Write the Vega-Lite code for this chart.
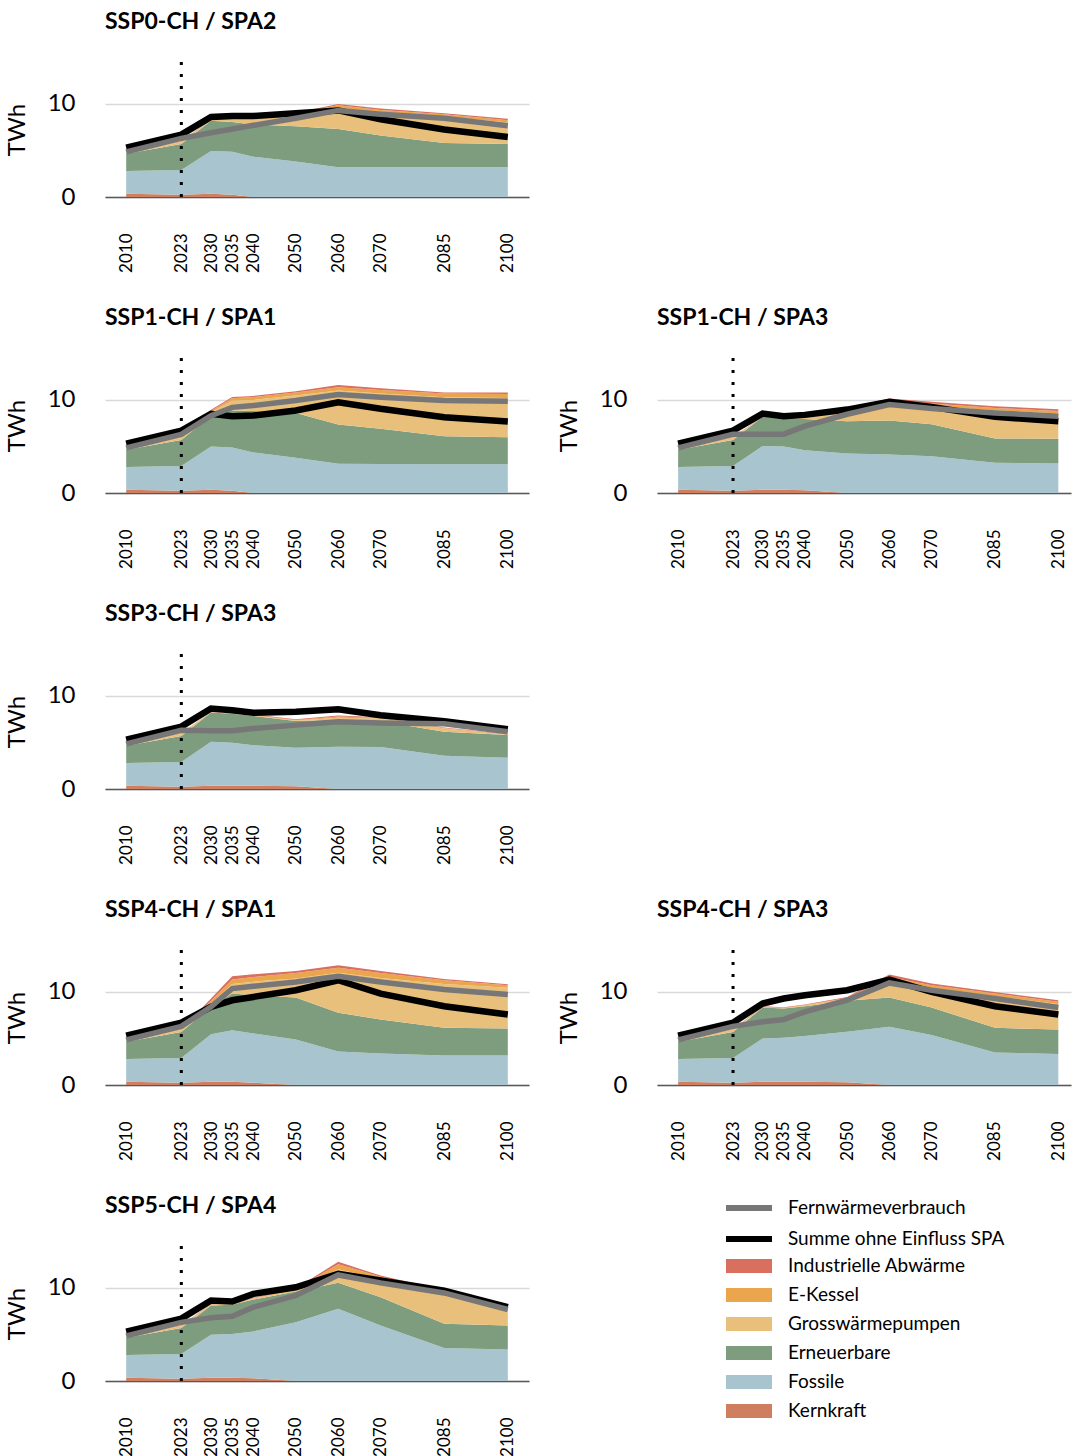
{
"$schema": "https://vega.github.io/schema/vega-lite/v6.json",
"padding": {"left": 5, "top": 10, "right": 0, "bottom": 0},
"config": {
  "font": "Lato",
  "view": {"stroke": null},
  "title": {"font": "Lato", "fontSize": 23, "fontWeight": "bold", "anchor": "start", "frame": "group", "color": "#000000", "offset": 27},
  "axis": {"labelFont": "Lato", "titleFont": "Lato", "labelColor": "#000000", "titleColor": "#000000"},
  "axisX": {"labelAngle": -90, "labelFontSize": 17, "labelPadding": 36, "ticks": false, "grid": false, "domainColor": "#595959", "domainWidth": 1.5, "labelFlush": false, "labelOverlap": false},
  "axisY": {"grid": true, "gridColor": "#d9d9d9", "gridWidth": 1.3, "ticks": false, "domain": false, "labelFontSize": 24, "labelPadding": 30, "titleFontSize": 24, "titleFontWeight": "normal", "titlePadding": 18, "labelFlush": false},
  "legend": {"orient": "none", "title": null, "labelFont": "Lato", "labelFontSize": 19, "labelColor": "#000000", "labelLimit": 400, "direction": "vertical"}
},
"datasets": {
"p1": [
{"year":2010,"series":"Kernkraft","twh":0.35},{"year":2010,"series":"Fossile","twh":2.45},{"year":2010,"series":"Erneuerbare","twh":1.85},{"year":2010,"series":"Grosswärmepumpen","twh":0},{"year":2010,"series":"E-Kessel","twh":0},{"year":2010,"series":"Industrielle Abwärme","twh":0},{"year":2010,"series":"Fernwärmeverbrauch","twh":4.85},{"year":2010,"series":"Summe ohne Einfluss SPA","twh":5.3},
{"year":2023,"series":"Kernkraft","twh":0.25},{"year":2023,"series":"Fossile","twh":2.65},{"year":2023,"series":"Erneuerbare","twh":2.8},{"year":2023,"series":"Grosswärmepumpen","twh":0.2},{"year":2023,"series":"E-Kessel","twh":0.05},{"year":2023,"series":"Industrielle Abwärme","twh":0.05},{"year":2023,"series":"Fernwärmeverbrauch","twh":6.3},{"year":2023,"series":"Summe ohne Einfluss SPA","twh":6.7},
{"year":2030,"series":"Kernkraft","twh":0.35},{"year":2030,"series":"Fossile","twh":4.6},{"year":2030,"series":"Erneuerbare","twh":3.24},{"year":2030,"series":"Grosswärmepumpen","twh":0.05},{"year":2030,"series":"E-Kessel","twh":0.05},{"year":2030,"series":"Industrielle Abwärme","twh":0.05},{"year":2030,"series":"Fernwärmeverbrauch","twh":6.9},{"year":2030,"series":"Summe ohne Einfluss SPA","twh":8.6},
{"year":2035,"series":"Kernkraft","twh":0.25},{"year":2035,"series":"Fossile","twh":4.61},{"year":2035,"series":"Erneuerbare","twh":3.19},{"year":2035,"series":"Grosswärmepumpen","twh":0.25},{"year":2035,"series":"E-Kessel","twh":0.1},{"year":2035,"series":"Industrielle Abwärme","twh":0.05},{"year":2035,"series":"Fernwärmeverbrauch","twh":7.3},{"year":2035,"series":"Summe ohne Einfluss SPA","twh":8.7},
{"year":2040,"series":"Kernkraft","twh":0},{"year":2040,"series":"Fossile","twh":4.32},{"year":2040,"series":"Erneuerbare","twh":3.48},{"year":2040,"series":"Grosswärmepumpen","twh":0.7},{"year":2040,"series":"E-Kessel","twh":0.05},{"year":2040,"series":"Industrielle Abwärme","twh":0.05},{"year":2040,"series":"Fernwärmeverbrauch","twh":7.7},{"year":2040,"series":"Summe ohne Einfluss SPA","twh":8.7},
{"year":2050,"series":"Kernkraft","twh":0},{"year":2050,"series":"Fossile","twh":3.82},{"year":2050,"series":"Erneuerbare","twh":3.78},{"year":2050,"series":"Grosswärmepumpen","twh":1.2},{"year":2050,"series":"E-Kessel","twh":0.15},{"year":2050,"series":"Industrielle Abwärme","twh":0.1},{"year":2050,"series":"Fernwärmeverbrauch","twh":8.45},{"year":2050,"series":"Summe ohne Einfluss SPA","twh":9.0},
{"year":2060,"series":"Kernkraft","twh":0},{"year":2060,"series":"Fossile","twh":3.2},{"year":2060,"series":"Erneuerbare","twh":4.1},{"year":2060,"series":"Grosswärmepumpen","twh":2.2},{"year":2060,"series":"E-Kessel","twh":0.35},{"year":2060,"series":"Industrielle Abwärme","twh":0.15},{"year":2060,"series":"Fernwärmeverbrauch","twh":9.3},{"year":2060,"series":"Summe ohne Einfluss SPA","twh":9.3},
{"year":2070,"series":"Kernkraft","twh":0},{"year":2070,"series":"Fossile","twh":3.2},{"year":2070,"series":"Erneuerbare","twh":3.4},{"year":2070,"series":"Grosswärmepumpen","twh":2.5},{"year":2070,"series":"E-Kessel","twh":0.25},{"year":2070,"series":"Industrielle Abwärme","twh":0.15},{"year":2070,"series":"Fernwärmeverbrauch","twh":8.9},{"year":2070,"series":"Summe ohne Einfluss SPA","twh":8.35},
{"year":2085,"series":"Kernkraft","twh":0},{"year":2085,"series":"Fossile","twh":3.2},{"year":2085,"series":"Erneuerbare","twh":2.6},{"year":2085,"series":"Grosswärmepumpen","twh":2.85},{"year":2085,"series":"E-Kessel","twh":0.25},{"year":2085,"series":"Industrielle Abwärme","twh":0.1},{"year":2085,"series":"Fernwärmeverbrauch","twh":8.45},{"year":2085,"series":"Summe ohne Einfluss SPA","twh":7.25},
{"year":2100,"series":"Kernkraft","twh":0},{"year":2100,"series":"Fossile","twh":3.2},{"year":2100,"series":"Erneuerbare","twh":2.5},{"year":2100,"series":"Grosswärmepumpen","twh":2.3},{"year":2100,"series":"E-Kessel","twh":0.25},{"year":2100,"series":"Industrielle Abwärme","twh":0.15},{"year":2100,"series":"Fernwärmeverbrauch","twh":7.65},{"year":2100,"series":"Summe ohne Einfluss SPA","twh":6.45}
],
"p2": [
{"year":2010,"series":"Kernkraft","twh":0.35},{"year":2010,"series":"Fossile","twh":2.45},{"year":2010,"series":"Erneuerbare","twh":1.85},{"year":2010,"series":"Grosswärmepumpen","twh":0},{"year":2010,"series":"E-Kessel","twh":0},{"year":2010,"series":"Industrielle Abwärme","twh":0},{"year":2010,"series":"Fernwärmeverbrauch","twh":4.85},{"year":2010,"series":"Summe ohne Einfluss SPA","twh":5.3},
{"year":2023,"series":"Kernkraft","twh":0.25},{"year":2023,"series":"Fossile","twh":2.65},{"year":2023,"series":"Erneuerbare","twh":2.8},{"year":2023,"series":"Grosswärmepumpen","twh":0.2},{"year":2023,"series":"E-Kessel","twh":0.05},{"year":2023,"series":"Industrielle Abwärme","twh":0.05},{"year":2023,"series":"Fernwärmeverbrauch","twh":6.3},{"year":2023,"series":"Summe ohne Einfluss SPA","twh":6.7},
{"year":2030,"series":"Kernkraft","twh":0.35},{"year":2030,"series":"Fossile","twh":4.65},{"year":2030,"series":"Erneuerbare","twh":3.3},{"year":2030,"series":"Grosswärmepumpen","twh":0.38},{"year":2030,"series":"E-Kessel","twh":0.12},{"year":2030,"series":"Industrielle Abwärme","twh":0.13},{"year":2030,"series":"Fernwärmeverbrauch","twh":8.3},{"year":2030,"series":"Summe ohne Einfluss SPA","twh":8.5},
{"year":2035,"series":"Kernkraft","twh":0.25},{"year":2035,"series":"Fossile","twh":4.64},{"year":2035,"series":"Erneuerbare","twh":3.97},{"year":2035,"series":"Grosswärmepumpen","twh":1.04},{"year":2035,"series":"E-Kessel","twh":0.28},{"year":2035,"series":"Industrielle Abwärme","twh":0.12},{"year":2035,"series":"Fernwärmeverbrauch","twh":9.2},{"year":2035,"series":"Summe ohne Einfluss SPA","twh":8.25},
{"year":2040,"series":"Kernkraft","twh":0},{"year":2040,"series":"Fossile","twh":4.36},{"year":2040,"series":"Erneuerbare","twh":4.44},{"year":2040,"series":"Grosswärmepumpen","twh":1.2},{"year":2040,"series":"E-Kessel","twh":0.3},{"year":2040,"series":"Industrielle Abwärme","twh":0.13},{"year":2040,"series":"Fernwärmeverbrauch","twh":9.4},{"year":2040,"series":"Summe ohne Einfluss SPA","twh":8.32},
{"year":2050,"series":"Kernkraft","twh":0},{"year":2050,"series":"Fossile","twh":3.79},{"year":2050,"series":"Erneuerbare","twh":4.81},{"year":2050,"series":"Grosswärmepumpen","twh":1.86},{"year":2050,"series":"E-Kessel","twh":0.34},{"year":2050,"series":"Industrielle Abwärme","twh":0.13},{"year":2050,"series":"Fernwärmeverbrauch","twh":9.93},{"year":2050,"series":"Summe ohne Einfluss SPA","twh":8.86},
{"year":2060,"series":"Kernkraft","twh":0},{"year":2060,"series":"Fossile","twh":3.14},{"year":2060,"series":"Erneuerbare","twh":4.22},{"year":2060,"series":"Grosswärmepumpen","twh":3.64},{"year":2060,"series":"E-Kessel","twh":0.36},{"year":2060,"series":"Industrielle Abwärme","twh":0.24},{"year":2060,"series":"Fernwärmeverbrauch","twh":10.57},{"year":2060,"series":"Summe ohne Einfluss SPA","twh":9.75},
{"year":2070,"series":"Kernkraft","twh":0},{"year":2070,"series":"Fossile","twh":3.12},{"year":2070,"series":"Erneuerbare","twh":3.78},{"year":2070,"series":"Grosswärmepumpen","twh":3.8},{"year":2070,"series":"E-Kessel","twh":0.37},{"year":2070,"series":"Industrielle Abwärme","twh":0.18},{"year":2070,"series":"Fernwärmeverbrauch","twh":10.29},{"year":2070,"series":"Summe ohne Einfluss SPA","twh":9.04},
{"year":2085,"series":"Kernkraft","twh":0},{"year":2085,"series":"Fossile","twh":3.1},{"year":2085,"series":"Erneuerbare","twh":3.0},{"year":2085,"series":"Grosswärmepumpen","twh":4.19},{"year":2085,"series":"E-Kessel","twh":0.39},{"year":2085,"series":"Industrielle Abwärme","twh":0.12},{"year":2085,"series":"Fernwärmeverbrauch","twh":9.93},{"year":2085,"series":"Summe ohne Einfluss SPA","twh":8.14},
{"year":2100,"series":"Kernkraft","twh":0},{"year":2100,"series":"Fossile","twh":3.1},{"year":2100,"series":"Erneuerbare","twh":2.9},{"year":2100,"series":"Grosswärmepumpen","twh":4.2},{"year":2100,"series":"E-Kessel","twh":0.44},{"year":2100,"series":"Industrielle Abwärme","twh":0.16},{"year":2100,"series":"Fernwärmeverbrauch","twh":9.86},{"year":2100,"series":"Summe ohne Einfluss SPA","twh":7.68}
],
"p3": [
{"year":2010,"series":"Kernkraft","twh":0.35},{"year":2010,"series":"Fossile","twh":2.45},{"year":2010,"series":"Erneuerbare","twh":1.85},{"year":2010,"series":"Grosswärmepumpen","twh":0},{"year":2010,"series":"E-Kessel","twh":0},{"year":2010,"series":"Industrielle Abwärme","twh":0},{"year":2010,"series":"Fernwärmeverbrauch","twh":4.85},{"year":2010,"series":"Summe ohne Einfluss SPA","twh":5.3},
{"year":2023,"series":"Kernkraft","twh":0.25},{"year":2023,"series":"Fossile","twh":2.65},{"year":2023,"series":"Erneuerbare","twh":2.8},{"year":2023,"series":"Grosswärmepumpen","twh":0.2},{"year":2023,"series":"E-Kessel","twh":0.05},{"year":2023,"series":"Industrielle Abwärme","twh":0.05},{"year":2023,"series":"Fernwärmeverbrauch","twh":6.3},{"year":2023,"series":"Summe ohne Einfluss SPA","twh":6.7},
{"year":2030,"series":"Kernkraft","twh":0.35},{"year":2030,"series":"Fossile","twh":4.69},{"year":2030,"series":"Erneuerbare","twh":3.14},{"year":2030,"series":"Grosswärmepumpen","twh":0.02},{"year":2030,"series":"E-Kessel","twh":0},{"year":2030,"series":"Industrielle Abwärme","twh":0.05},{"year":2030,"series":"Fernwärmeverbrauch","twh":6.32},{"year":2030,"series":"Summe ohne Einfluss SPA","twh":8.54},
{"year":2035,"series":"Kernkraft","twh":0.35},{"year":2035,"series":"Fossile","twh":4.65},{"year":2035,"series":"Erneuerbare","twh":3.1},{"year":2035,"series":"Grosswärmepumpen","twh":0},{"year":2035,"series":"E-Kessel","twh":0},{"year":2035,"series":"Industrielle Abwärme","twh":0.05},{"year":2035,"series":"Fernwärmeverbrauch","twh":6.32},{"year":2035,"series":"Summe ohne Einfluss SPA","twh":8.25},
{"year":2040,"series":"Kernkraft","twh":0.3},{"year":2040,"series":"Fossile","twh":4.3},{"year":2040,"series":"Erneuerbare","twh":3.36},{"year":2040,"series":"Grosswärmepumpen","twh":0.04},{"year":2040,"series":"E-Kessel","twh":0.05},{"year":2040,"series":"Industrielle Abwärme","twh":0.05},{"year":2040,"series":"Fernwärmeverbrauch","twh":7.18},{"year":2040,"series":"Summe ohne Einfluss SPA","twh":8.39},
{"year":2050,"series":"Kernkraft","twh":0},{"year":2050,"series":"Fossile","twh":4.25},{"year":2050,"series":"Erneuerbare","twh":3.46},{"year":2050,"series":"Grosswärmepumpen","twh":1.19},{"year":2050,"series":"E-Kessel","twh":0.1},{"year":2050,"series":"Industrielle Abwärme","twh":0.1},{"year":2050,"series":"Fernwärmeverbrauch","twh":8.46},{"year":2050,"series":"Summe ohne Einfluss SPA","twh":8.96},
{"year":2060,"series":"Kernkraft","twh":0},{"year":2060,"series":"Fossile","twh":4.14},{"year":2060,"series":"Erneuerbare","twh":3.65},{"year":2060,"series":"Grosswärmepumpen","twh":1.81},{"year":2060,"series":"E-Kessel","twh":0.36},{"year":2060,"series":"Industrielle Abwärme","twh":0.18},{"year":2060,"series":"Fernwärmeverbrauch","twh":9.5},{"year":2060,"series":"Summe ohne Einfluss SPA","twh":9.79},
{"year":2070,"series":"Kernkraft","twh":0},{"year":2070,"series":"Fossile","twh":3.96},{"year":2070,"series":"Erneuerbare","twh":3.43},{"year":2070,"series":"Grosswärmepumpen","twh":1.93},{"year":2070,"series":"E-Kessel","twh":0.28},{"year":2070,"series":"Industrielle Abwärme","twh":0.19},{"year":2070,"series":"Fernwärmeverbrauch","twh":9.07},{"year":2070,"series":"Summe ohne Einfluss SPA","twh":9.25},
{"year":2085,"series":"Kernkraft","twh":0},{"year":2085,"series":"Fossile","twh":3.25},{"year":2085,"series":"Erneuerbare","twh":2.61},{"year":2085,"series":"Grosswärmepumpen","twh":3.04},{"year":2085,"series":"E-Kessel","twh":0.24},{"year":2085,"series":"Industrielle Abwärme","twh":0.18},{"year":2085,"series":"Fernwärmeverbrauch","twh":8.6},{"year":2085,"series":"Summe ohne Einfluss SPA","twh":8.18},
{"year":2100,"series":"Kernkraft","twh":0},{"year":2100,"series":"Fossile","twh":3.18},{"year":2100,"series":"Erneuerbare","twh":2.64},{"year":2100,"series":"Grosswärmepumpen","twh":2.72},{"year":2100,"series":"E-Kessel","twh":0.28},{"year":2100,"series":"Industrielle Abwärme","twh":0.18},{"year":2100,"series":"Fernwärmeverbrauch","twh":8.25},{"year":2100,"series":"Summe ohne Einfluss SPA","twh":7.71}
],
"p4": [
{"year":2010,"series":"Kernkraft","twh":0.35},{"year":2010,"series":"Fossile","twh":2.45},{"year":2010,"series":"Erneuerbare","twh":1.85},{"year":2010,"series":"Grosswärmepumpen","twh":0},{"year":2010,"series":"E-Kessel","twh":0},{"year":2010,"series":"Industrielle Abwärme","twh":0},{"year":2010,"series":"Fernwärmeverbrauch","twh":4.85},{"year":2010,"series":"Summe ohne Einfluss SPA","twh":5.3},
{"year":2023,"series":"Kernkraft","twh":0.25},{"year":2023,"series":"Fossile","twh":2.65},{"year":2023,"series":"Erneuerbare","twh":2.8},{"year":2023,"series":"Grosswärmepumpen","twh":0.2},{"year":2023,"series":"E-Kessel","twh":0.05},{"year":2023,"series":"Industrielle Abwärme","twh":0.05},{"year":2023,"series":"Fernwärmeverbrauch","twh":6.3},{"year":2023,"series":"Summe ohne Einfluss SPA","twh":6.7},
{"year":2030,"series":"Kernkraft","twh":0.35},{"year":2030,"series":"Fossile","twh":4.72},{"year":2030,"series":"Erneuerbare","twh":3.14},{"year":2030,"series":"Grosswärmepumpen","twh":0.04},{"year":2030,"series":"E-Kessel","twh":0.03},{"year":2030,"series":"Industrielle Abwärme","twh":0.02},{"year":2030,"series":"Fernwärmeverbrauch","twh":6.25},{"year":2030,"series":"Summe ohne Einfluss SPA","twh":8.64},
{"year":2035,"series":"Kernkraft","twh":0.35},{"year":2035,"series":"Fossile","twh":4.61},{"year":2035,"series":"Erneuerbare","twh":3.11},{"year":2035,"series":"Grosswärmepumpen","twh":0.03},{"year":2035,"series":"E-Kessel","twh":0.02},{"year":2035,"series":"Industrielle Abwärme","twh":0.03},{"year":2035,"series":"Fernwärmeverbrauch","twh":6.25},{"year":2035,"series":"Summe ohne Einfluss SPA","twh":8.46},
{"year":2040,"series":"Kernkraft","twh":0.35},{"year":2040,"series":"Fossile","twh":4.36},{"year":2040,"series":"Erneuerbare","twh":3.15},{"year":2040,"series":"Grosswärmepumpen","twh":0.04},{"year":2040,"series":"E-Kessel","twh":0.05},{"year":2040,"series":"Industrielle Abwärme","twh":0.05},{"year":2040,"series":"Fernwärmeverbrauch","twh":6.5},{"year":2040,"series":"Summe ohne Einfluss SPA","twh":8.18},
{"year":2050,"series":"Kernkraft","twh":0.3},{"year":2050,"series":"Fossile","twh":4.13},{"year":2050,"series":"Erneuerbare","twh":2.87},{"year":2050,"series":"Grosswärmepumpen","twh":0.05},{"year":2050,"series":"E-Kessel","twh":0.05},{"year":2050,"series":"Industrielle Abwärme","twh":0.1},{"year":2050,"series":"Fernwärmeverbrauch","twh":6.86},{"year":2050,"series":"Summe ohne Einfluss SPA","twh":8.29},
{"year":2060,"series":"Kernkraft","twh":0},{"year":2060,"series":"Fossile","twh":4.54},{"year":2060,"series":"Erneuerbare","twh":2.91},{"year":2060,"series":"Grosswärmepumpen","twh":0.2},{"year":2060,"series":"E-Kessel","twh":0.15},{"year":2060,"series":"Industrielle Abwärme","twh":0.1},{"year":2060,"series":"Fernwärmeverbrauch","twh":7.21},{"year":2060,"series":"Summe ohne Einfluss SPA","twh":8.57},
{"year":2070,"series":"Kernkraft","twh":0},{"year":2070,"series":"Fossile","twh":4.5},{"year":2070,"series":"Erneuerbare","twh":2.79},{"year":2070,"series":"Grosswärmepumpen","twh":0.28},{"year":2070,"series":"E-Kessel","twh":0.08},{"year":2070,"series":"Industrielle Abwärme","twh":0.05},{"year":2070,"series":"Fernwärmeverbrauch","twh":7.1},{"year":2070,"series":"Summe ohne Einfluss SPA","twh":7.93},
{"year":2085,"series":"Kernkraft","twh":0},{"year":2085,"series":"Fossile","twh":3.57},{"year":2085,"series":"Erneuerbare","twh":2.57},{"year":2085,"series":"Grosswärmepumpen","twh":0.36},{"year":2085,"series":"E-Kessel","twh":0.05},{"year":2085,"series":"Industrielle Abwärme","twh":0.05},{"year":2085,"series":"Fernwärmeverbrauch","twh":7.0},{"year":2085,"series":"Summe ohne Einfluss SPA","twh":7.29},
{"year":2100,"series":"Kernkraft","twh":0},{"year":2100,"series":"Fossile","twh":3.36},{"year":2100,"series":"Erneuerbare","twh":2.43},{"year":2100,"series":"Grosswärmepumpen","twh":0.06},{"year":2100,"series":"E-Kessel","twh":0},{"year":2100,"series":"Industrielle Abwärme","twh":0.05},{"year":2100,"series":"Fernwärmeverbrauch","twh":6.14},{"year":2100,"series":"Summe ohne Einfluss SPA","twh":6.43}
],
"p5": [
{"year":2010,"series":"Kernkraft","twh":0.35},{"year":2010,"series":"Fossile","twh":2.45},{"year":2010,"series":"Erneuerbare","twh":1.85},{"year":2010,"series":"Grosswärmepumpen","twh":0},{"year":2010,"series":"E-Kessel","twh":0},{"year":2010,"series":"Industrielle Abwärme","twh":0},{"year":2010,"series":"Fernwärmeverbrauch","twh":4.85},{"year":2010,"series":"Summe ohne Einfluss SPA","twh":5.3},
{"year":2023,"series":"Kernkraft","twh":0.25},{"year":2023,"series":"Fossile","twh":2.65},{"year":2023,"series":"Erneuerbare","twh":2.8},{"year":2023,"series":"Grosswärmepumpen","twh":0.2},{"year":2023,"series":"E-Kessel","twh":0.05},{"year":2023,"series":"Industrielle Abwärme","twh":0.05},{"year":2023,"series":"Fernwärmeverbrauch","twh":6.3},{"year":2023,"series":"Summe ohne Einfluss SPA","twh":6.7},
{"year":2030,"series":"Kernkraft","twh":0.35},{"year":2030,"series":"Fossile","twh":5.11},{"year":2030,"series":"Erneuerbare","twh":2.93},{"year":2030,"series":"Grosswärmepumpen","twh":0.36},{"year":2030,"series":"E-Kessel","twh":0.29},{"year":2030,"series":"Industrielle Abwärme","twh":0.25},{"year":2030,"series":"Fernwärmeverbrauch","twh":8.39},{"year":2030,"series":"Summe ohne Einfluss SPA","twh":8.39},
{"year":2035,"series":"Kernkraft","twh":0.35},{"year":2035,"series":"Fossile","twh":5.54},{"year":2035,"series":"Erneuerbare","twh":3.93},{"year":2035,"series":"Grosswärmepumpen","twh":1.03},{"year":2035,"series":"E-Kessel","twh":0.47},{"year":2035,"series":"Industrielle Abwärme","twh":0.36},{"year":2035,"series":"Fernwärmeverbrauch","twh":10.36},{"year":2035,"series":"Summe ohne Einfluss SPA","twh":9.1},
{"year":2040,"series":"Kernkraft","twh":0.25},{"year":2040,"series":"Fossile","twh":5.29},{"year":2040,"series":"Erneuerbare","twh":4.1},{"year":2040,"series":"Grosswärmepumpen","twh":1.46},{"year":2040,"series":"E-Kessel","twh":0.5},{"year":2040,"series":"Industrielle Abwärme","twh":0.3},{"year":2040,"series":"Fernwärmeverbrauch","twh":10.6},{"year":2040,"series":"Summe ohne Einfluss SPA","twh":9.46},
{"year":2050,"series":"Kernkraft","twh":0},{"year":2050,"series":"Fossile","twh":4.89},{"year":2050,"series":"Erneuerbare","twh":4.5},{"year":2050,"series":"Grosswärmepumpen","twh":2.06},{"year":2050,"series":"E-Kessel","twh":0.59},{"year":2050,"series":"Industrielle Abwärme","twh":0.21},{"year":2050,"series":"Fernwärmeverbrauch","twh":11.07},{"year":2050,"series":"Summe ohne Einfluss SPA","twh":10.18},
{"year":2060,"series":"Kernkraft","twh":0},{"year":2060,"series":"Fossile","twh":3.61},{"year":2060,"series":"Erneuerbare","twh":4.14},{"year":2060,"series":"Grosswärmepumpen","twh":4.3},{"year":2060,"series":"E-Kessel","twh":0.55},{"year":2060,"series":"Industrielle Abwärme","twh":0.26},{"year":2060,"series":"Fernwärmeverbrauch","twh":11.68},{"year":2060,"series":"Summe ohne Einfluss SPA","twh":11.25},
{"year":2070,"series":"Kernkraft","twh":0},{"year":2070,"series":"Fossile","twh":3.39},{"year":2070,"series":"Erneuerbare","twh":3.65},{"year":2070,"series":"Grosswärmepumpen","twh":4.46},{"year":2070,"series":"E-Kessel","twh":0.54},{"year":2070,"series":"Industrielle Abwärme","twh":0.21},{"year":2070,"series":"Fernwärmeverbrauch","twh":11.07},{"year":2070,"series":"Summe ohne Einfluss SPA","twh":9.82},
{"year":2085,"series":"Kernkraft","twh":0},{"year":2085,"series":"Fossile","twh":3.18},{"year":2085,"series":"Erneuerbare","twh":2.96},{"year":2085,"series":"Grosswärmepumpen","twh":4.71},{"year":2085,"series":"E-Kessel","twh":0.4},{"year":2085,"series":"Industrielle Abwärme","twh":0.14},{"year":2085,"series":"Fernwärmeverbrauch","twh":10.25},{"year":2085,"series":"Summe ohne Einfluss SPA","twh":8.46},
{"year":2100,"series":"Kernkraft","twh":0},{"year":2100,"series":"Fossile","twh":3.18},{"year":2100,"series":"Erneuerbare","twh":2.89},{"year":2100,"series":"Grosswärmepumpen","twh":4.38},{"year":2100,"series":"E-Kessel","twh":0.26},{"year":2100,"series":"Industrielle Abwärme","twh":0.11},{"year":2100,"series":"Fernwärmeverbrauch","twh":9.71},{"year":2100,"series":"Summe ohne Einfluss SPA","twh":7.57}
],
"p6": [
{"year":2010,"series":"Kernkraft","twh":0.35},{"year":2010,"series":"Fossile","twh":2.45},{"year":2010,"series":"Erneuerbare","twh":1.85},{"year":2010,"series":"Grosswärmepumpen","twh":0},{"year":2010,"series":"E-Kessel","twh":0},{"year":2010,"series":"Industrielle Abwärme","twh":0},{"year":2010,"series":"Fernwärmeverbrauch","twh":4.85},{"year":2010,"series":"Summe ohne Einfluss SPA","twh":5.3},
{"year":2023,"series":"Kernkraft","twh":0.25},{"year":2023,"series":"Fossile","twh":2.65},{"year":2023,"series":"Erneuerbare","twh":2.8},{"year":2023,"series":"Grosswärmepumpen","twh":0.2},{"year":2023,"series":"E-Kessel","twh":0.05},{"year":2023,"series":"Industrielle Abwärme","twh":0.05},{"year":2023,"series":"Fernwärmeverbrauch","twh":6.3},{"year":2023,"series":"Summe ohne Einfluss SPA","twh":6.7},
{"year":2030,"series":"Kernkraft","twh":0.35},{"year":2030,"series":"Fossile","twh":4.65},{"year":2030,"series":"Erneuerbare","twh":3.32},{"year":2030,"series":"Grosswärmepumpen","twh":0.03},{"year":2030,"series":"E-Kessel","twh":0.05},{"year":2030,"series":"Industrielle Abwärme","twh":0.05},{"year":2030,"series":"Fernwärmeverbrauch","twh":6.79},{"year":2030,"series":"Summe ohne Einfluss SPA","twh":8.75},
{"year":2035,"series":"Kernkraft","twh":0.35},{"year":2035,"series":"Fossile","twh":4.72},{"year":2035,"series":"Erneuerbare","twh":3.14},{"year":2035,"series":"Grosswärmepumpen","twh":0.04},{"year":2035,"series":"E-Kessel","twh":0.05},{"year":2035,"series":"Industrielle Abwärme","twh":0.05},{"year":2035,"series":"Fernwärmeverbrauch","twh":7.04},{"year":2035,"series":"Summe ohne Einfluss SPA","twh":9.29},
{"year":2040,"series":"Kernkraft","twh":0.35},{"year":2040,"series":"Fossile","twh":4.9},{"year":2040,"series":"Erneuerbare","twh":3.21},{"year":2040,"series":"Grosswärmepumpen","twh":0.09},{"year":2040,"series":"E-Kessel","twh":0.05},{"year":2040,"series":"Industrielle Abwärme","twh":0.05},{"year":2040,"series":"Fernwärmeverbrauch","twh":7.86},{"year":2040,"series":"Summe ohne Einfluss SPA","twh":9.64},
{"year":2050,"series":"Kernkraft","twh":0.3},{"year":2050,"series":"Fossile","twh":5.41},{"year":2050,"series":"Erneuerbare","twh":3.33},{"year":2050,"series":"Grosswärmepumpen","twh":0.26},{"year":2050,"series":"E-Kessel","twh":0.05},{"year":2050,"series":"Industrielle Abwärme","twh":0.1},{"year":2050,"series":"Fernwärmeverbrauch","twh":9.11},{"year":2050,"series":"Summe ohne Einfluss SPA","twh":10.18},
{"year":2060,"series":"Kernkraft","twh":0},{"year":2060,"series":"Fossile","twh":6.25},{"year":2060,"series":"Erneuerbare","twh":3.14},{"year":2060,"series":"Grosswärmepumpen","twh":1.51},{"year":2060,"series":"E-Kessel","twh":0.7},{"year":2060,"series":"Industrielle Abwärme","twh":0.26},{"year":2060,"series":"Fernwärmeverbrauch","twh":10.96},{"year":2060,"series":"Summe ohne Einfluss SPA","twh":11.32},
{"year":2070,"series":"Kernkraft","twh":0},{"year":2070,"series":"Fossile","twh":5.36},{"year":2070,"series":"Erneuerbare","twh":2.96},{"year":2070,"series":"Grosswärmepumpen","twh":2.04},{"year":2070,"series":"E-Kessel","twh":0.35},{"year":2070,"series":"Industrielle Abwärme","twh":0.19},{"year":2070,"series":"Fernwärmeverbrauch","twh":10.18},{"year":2070,"series":"Summe ohne Einfluss SPA","twh":10.0},
{"year":2085,"series":"Kernkraft","twh":0},{"year":2085,"series":"Fossile","twh":3.5},{"year":2085,"series":"Erneuerbare","twh":2.64},{"year":2085,"series":"Grosswärmepumpen","twh":3.4},{"year":2085,"series":"E-Kessel","twh":0.28},{"year":2085,"series":"Industrielle Abwärme","twh":0.18},{"year":2085,"series":"Fernwärmeverbrauch","twh":9.29},{"year":2085,"series":"Summe ohne Einfluss SPA","twh":8.46},
{"year":2100,"series":"Kernkraft","twh":0},{"year":2100,"series":"Fossile","twh":3.32},{"year":2100,"series":"Erneuerbare","twh":2.64},{"year":2100,"series":"Grosswärmepumpen","twh":2.72},{"year":2100,"series":"E-Kessel","twh":0.25},{"year":2100,"series":"Industrielle Abwärme","twh":0.18},{"year":2100,"series":"Fernwärmeverbrauch","twh":8.32},{"year":2100,"series":"Summe ohne Einfluss SPA","twh":7.57}
],
"p7": [
{"year":2010,"series":"Kernkraft","twh":0.35},{"year":2010,"series":"Fossile","twh":2.45},{"year":2010,"series":"Erneuerbare","twh":1.85},{"year":2010,"series":"Grosswärmepumpen","twh":0},{"year":2010,"series":"E-Kessel","twh":0},{"year":2010,"series":"Industrielle Abwärme","twh":0},{"year":2010,"series":"Fernwärmeverbrauch","twh":4.85},{"year":2010,"series":"Summe ohne Einfluss SPA","twh":5.3},
{"year":2023,"series":"Kernkraft","twh":0.25},{"year":2023,"series":"Fossile","twh":2.65},{"year":2023,"series":"Erneuerbare","twh":2.8},{"year":2023,"series":"Grosswärmepumpen","twh":0.2},{"year":2023,"series":"E-Kessel","twh":0.05},{"year":2023,"series":"Industrielle Abwärme","twh":0.05},{"year":2023,"series":"Fernwärmeverbrauch","twh":6.3},{"year":2023,"series":"Summe ohne Einfluss SPA","twh":6.7},
{"year":2030,"series":"Kernkraft","twh":0.35},{"year":2030,"series":"Fossile","twh":4.61},{"year":2030,"series":"Erneuerbare","twh":3.14},{"year":2030,"series":"Grosswärmepumpen","twh":0.1},{"year":2030,"series":"E-Kessel","twh":0.05},{"year":2030,"series":"Industrielle Abwärme","twh":0.05},{"year":2030,"series":"Fernwärmeverbrauch","twh":6.79},{"year":2030,"series":"Summe ohne Einfluss SPA","twh":8.64},
{"year":2035,"series":"Kernkraft","twh":0.35},{"year":2035,"series":"Fossile","twh":4.69},{"year":2035,"series":"Erneuerbare","twh":3.14},{"year":2035,"series":"Grosswärmepumpen","twh":0.07},{"year":2035,"series":"E-Kessel","twh":0.05},{"year":2035,"series":"Industrielle Abwärme","twh":0.05},{"year":2035,"series":"Fernwärmeverbrauch","twh":6.96},{"year":2035,"series":"Summe ohne Einfluss SPA","twh":8.54},
{"year":2040,"series":"Kernkraft","twh":0.3},{"year":2040,"series":"Fossile","twh":5.02},{"year":2040,"series":"Erneuerbare","twh":3.43},{"year":2040,"series":"Grosswärmepumpen","twh":0.1},{"year":2040,"series":"E-Kessel","twh":0.05},{"year":2040,"series":"Industrielle Abwärme","twh":0.05},{"year":2040,"series":"Fernwärmeverbrauch","twh":7.93},{"year":2040,"series":"Summe ohne Einfluss SPA","twh":9.36},
{"year":2050,"series":"Kernkraft","twh":0},{"year":2050,"series":"Fossile","twh":6.32},{"year":2050,"series":"Erneuerbare","twh":3.28},{"year":2050,"series":"Grosswärmepumpen","twh":0.15},{"year":2050,"series":"E-Kessel","twh":0.1},{"year":2050,"series":"Industrielle Abwärme","twh":0.1},{"year":2050,"series":"Fernwärmeverbrauch","twh":9.18},{"year":2050,"series":"Summe ohne Einfluss SPA","twh":10.07},
{"year":2060,"series":"Kernkraft","twh":0},{"year":2060,"series":"Fossile","twh":7.75},{"year":2060,"series":"Erneuerbare","twh":2.79},{"year":2060,"series":"Grosswärmepumpen","twh":1.46},{"year":2060,"series":"E-Kessel","twh":0.55},{"year":2060,"series":"Industrielle Abwärme","twh":0.25},{"year":2060,"series":"Fernwärmeverbrauch","twh":11.39},{"year":2060,"series":"Summe ohne Einfluss SPA","twh":11.5},
{"year":2070,"series":"Kernkraft","twh":0},{"year":2070,"series":"Fossile","twh":5.96},{"year":2070,"series":"Erneuerbare","twh":3.04},{"year":2070,"series":"Grosswärmepumpen","twh":1.96},{"year":2070,"series":"E-Kessel","twh":0.24},{"year":2070,"series":"Industrielle Abwärme","twh":0.12},{"year":2070,"series":"Fernwärmeverbrauch","twh":10.54},{"year":2070,"series":"Summe ohne Einfluss SPA","twh":10.79},
{"year":2085,"series":"Kernkraft","twh":0},{"year":2085,"series":"Fossile","twh":3.54},{"year":2085,"series":"Erneuerbare","twh":2.6},{"year":2085,"series":"Grosswärmepumpen","twh":3.22},{"year":2085,"series":"E-Kessel","twh":0.24},{"year":2085,"series":"Industrielle Abwärme","twh":0.15},{"year":2085,"series":"Fernwärmeverbrauch","twh":9.46},{"year":2085,"series":"Summe ohne Einfluss SPA","twh":9.71},
{"year":2100,"series":"Kernkraft","twh":0},{"year":2100,"series":"Fossile","twh":3.39},{"year":2100,"series":"Erneuerbare","twh":2.57},{"year":2100,"series":"Grosswärmepumpen","twh":1.94},{"year":2100,"series":"E-Kessel","twh":0.1},{"year":2100,"series":"Industrielle Abwärme","twh":0.1},{"year":2100,"series":"Fernwärmeverbrauch","twh":7.68},{"year":2100,"series":"Summe ohne Einfluss SPA","twh":7.93}
],
"marker": [{"year": 2023}]
},
"spacing": 33,
"vconcat": [
{"hconcat": [
{"title": "SSP0-CH / SPA2", "width": 424, "height": 135, "data": {"name": "p1"},
 "layer": [
  {"transform": [{"filter": {"field": "series", "oneOf": ["Kernkraft","Fossile","Erneuerbare","Grosswärmepumpen","E-Kessel","Industrielle Abwärme"]}}, {"calculate": "indexof(['Kernkraft','Fossile','Erneuerbare','Grosswärmepumpen','E-Kessel','Industrielle Abwärme'], datum.series)", "as": "rank"}],
   "mark": {"type": "area"},
   "encoding": {
    "x": {"field": "year", "type": "quantitative", "title": null, "scale": {"domain": [2005, 2105], "nice": false, "zero": false}, "axis": {"values": [2010,2023,2030,2035,2040,2050,2060,2070,2085,2100], "format": "d"}},
    "y": {"field": "twh", "type": "quantitative", "stack": "zero", "title": "TWh", "scale": {"domain": [0, 14.5], "nice": false}, "axis": {"values": [0, 10]}},
    "order": {"field": "rank", "type": "quantitative", "sort": "ascending"},
    "fill": {"field": "series", "type": "nominal",
      "scale": {"domain": ["Industrielle Abwärme","E-Kessel","Grosswärmepumpen","Erneuerbare","Fossile","Kernkraft"], "range": ["#D9705F","#EBA54D","#E8C07C","#7E9D7E","#A8C4CF","#CF7F5F"]},
      "legend": {"legendX": 634, "legendY": 1194, "rowPadding": 9, "labelOffset": 29, "symbolType": "M-2.3,-0.7H2.3V0.7H-2.3Z", "symbolSize": 400, "symbolStrokeWidth": 0}}
   }},
  {"data": {"name": "marker"}, "mark": {"type": "rule", "strokeDash": [3, 9], "strokeWidth": 3, "color": "#000000", "strokeCap": "butt"},
   "encoding": {"x": {"field": "year", "type": "quantitative", "title": null}}},
  {"transform": [{"filter": {"field": "series", "equal": "Summe ohne Einfluss SPA"}}],
   "mark": {"type": "line", "strokeWidth": 6.5},
   "encoding": {"x": {"field": "year", "type": "quantitative", "title": null}, "y": {"field": "twh", "type": "quantitative", "title": "TWh"},
    "stroke": {"field": "series", "type": "nominal", "scale": {"domain": ["Fernwärmeverbrauch","Summe ohne Einfluss SPA"], "range": ["#777777","#000000"]},
      "legend": {"legendX": 631, "legendY": 1133, "rowPadding": 6, "labelOffset": 26, "symbolType": "M-2.3,0H2.3", "symbolSize": 400, "symbolStrokeWidth": 6}}}},
  {"transform": [{"filter": {"field": "series", "equal": "Fernwärmeverbrauch"}}],
   "mark": {"type": "line", "strokeWidth": 5.5},
   "encoding": {"x": {"field": "year", "type": "quantitative", "title": null}, "y": {"field": "twh", "type": "quantitative", "title": "TWh"},
    "stroke": {"field": "series", "type": "nominal", "scale": {"domain": ["Fernwärmeverbrauch","Summe ohne Einfluss SPA"], "range": ["#777777","#000000"]}}}}
 ]}
]},
{"spacing": 28, "hconcat": [
{"title": "SSP1-CH / SPA1", "width": 424, "height": 135, "data": {"name": "p2"},
 "layer": [
  {"transform": [{"filter": {"field": "series", "oneOf": ["Kernkraft","Fossile","Erneuerbare","Grosswärmepumpen","E-Kessel","Industrielle Abwärme"]}}, {"calculate": "indexof(['Kernkraft','Fossile','Erneuerbare','Grosswärmepumpen','E-Kessel','Industrielle Abwärme'], datum.series)", "as": "rank"}],
   "mark": {"type": "area"},
   "encoding": {
    "x": {"field": "year", "type": "quantitative", "title": null, "scale": {"domain": [2005, 2105], "nice": false, "zero": false}, "axis": {"values": [2010,2023,2030,2035,2040,2050,2060,2070,2085,2100], "format": "d"}},
    "y": {"field": "twh", "type": "quantitative", "stack": "zero", "title": "TWh", "scale": {"domain": [0, 14.5], "nice": false}, "axis": {"values": [0, 10]}},
    "order": {"field": "rank", "type": "quantitative", "sort": "ascending"},
    "fill": {"field": "series", "type": "nominal",
      "scale": {"domain": ["Industrielle Abwärme","E-Kessel","Grosswärmepumpen","Erneuerbare","Fossile","Kernkraft"], "range": ["#D9705F","#EBA54D","#E8C07C","#7E9D7E","#A8C4CF","#CF7F5F"]}}
   }},
  {"data": {"name": "marker"}, "mark": {"type": "rule", "strokeDash": [3, 9], "strokeWidth": 3, "color": "#000000", "strokeCap": "butt"},
   "encoding": {"x": {"field": "year", "type": "quantitative", "title": null}}},
  {"transform": [{"filter": {"field": "series", "equal": "Summe ohne Einfluss SPA"}}],
   "mark": {"type": "line", "strokeWidth": 6.5},
   "encoding": {"x": {"field": "year", "type": "quantitative", "title": null}, "y": {"field": "twh", "type": "quantitative", "title": "TWh"},
    "stroke": {"field": "series", "type": "nominal", "scale": {"domain": ["Fernwärmeverbrauch","Summe ohne Einfluss SPA"], "range": ["#777777","#000000"]}}}},
  {"transform": [{"filter": {"field": "series", "equal": "Fernwärmeverbrauch"}}],
   "mark": {"type": "line", "strokeWidth": 5.5},
   "encoding": {"x": {"field": "year", "type": "quantitative", "title": null}, "y": {"field": "twh", "type": "quantitative", "title": "TWh"},
    "stroke": {"field": "series", "type": "nominal", "scale": {"domain": ["Fernwärmeverbrauch","Summe ohne Einfluss SPA"], "range": ["#777777","#000000"]}}}}
 ]},
{"title": "SSP1-CH / SPA3", "width": 414, "height": 135, "data": {"name": "p3"},
 "layer": [
  {"transform": [{"filter": {"field": "series", "oneOf": ["Kernkraft","Fossile","Erneuerbare","Grosswärmepumpen","E-Kessel","Industrielle Abwärme"]}}, {"calculate": "indexof(['Kernkraft','Fossile','Erneuerbare','Grosswärmepumpen','E-Kessel','Industrielle Abwärme'], datum.series)", "as": "rank"}],
   "mark": {"type": "area"},
   "encoding": {
    "x": {"field": "year", "type": "quantitative", "title": null, "scale": {"domain": [2005, 2103], "nice": false, "zero": false}, "axis": {"values": [2010,2023,2030,2035,2040,2050,2060,2070,2085,2100], "format": "d"}},
    "y": {"field": "twh", "type": "quantitative", "stack": "zero", "title": "TWh", "scale": {"domain": [0, 14.5], "nice": false}, "axis": {"values": [0, 10]}},
    "order": {"field": "rank", "type": "quantitative", "sort": "ascending"},
    "fill": {"field": "series", "type": "nominal",
      "scale": {"domain": ["Industrielle Abwärme","E-Kessel","Grosswärmepumpen","Erneuerbare","Fossile","Kernkraft"], "range": ["#D9705F","#EBA54D","#E8C07C","#7E9D7E","#A8C4CF","#CF7F5F"]}}
   }},
  {"data": {"name": "marker"}, "mark": {"type": "rule", "strokeDash": [3, 9], "strokeWidth": 3, "color": "#000000", "strokeCap": "butt"},
   "encoding": {"x": {"field": "year", "type": "quantitative", "title": null}}},
  {"transform": [{"filter": {"field": "series", "equal": "Summe ohne Einfluss SPA"}}],
   "mark": {"type": "line", "strokeWidth": 6.5},
   "encoding": {"x": {"field": "year", "type": "quantitative", "title": null}, "y": {"field": "twh", "type": "quantitative", "title": "TWh"},
    "stroke": {"field": "series", "type": "nominal", "scale": {"domain": ["Fernwärmeverbrauch","Summe ohne Einfluss SPA"], "range": ["#777777","#000000"]}}}},
  {"transform": [{"filter": {"field": "series", "equal": "Fernwärmeverbrauch"}}],
   "mark": {"type": "line", "strokeWidth": 5.5},
   "encoding": {"x": {"field": "year", "type": "quantitative", "title": null}, "y": {"field": "twh", "type": "quantitative", "title": "TWh"},
    "stroke": {"field": "series", "type": "nominal", "scale": {"domain": ["Fernwärmeverbrauch","Summe ohne Einfluss SPA"], "range": ["#777777","#000000"]}}}}
 ]}
]},
{"hconcat": [
{"title": "SSP3-CH / SPA3", "width": 424, "height": 135, "data": {"name": "p4"},
 "layer": [
  {"transform": [{"filter": {"field": "series", "oneOf": ["Kernkraft","Fossile","Erneuerbare","Grosswärmepumpen","E-Kessel","Industrielle Abwärme"]}}, {"calculate": "indexof(['Kernkraft','Fossile','Erneuerbare','Grosswärmepumpen','E-Kessel','Industrielle Abwärme'], datum.series)", "as": "rank"}],
   "mark": {"type": "area"},
   "encoding": {
    "x": {"field": "year", "type": "quantitative", "title": null, "scale": {"domain": [2005, 2105], "nice": false, "zero": false}, "axis": {"values": [2010,2023,2030,2035,2040,2050,2060,2070,2085,2100], "format": "d"}},
    "y": {"field": "twh", "type": "quantitative", "stack": "zero", "title": "TWh", "scale": {"domain": [0, 14.5], "nice": false}, "axis": {"values": [0, 10]}},
    "order": {"field": "rank", "type": "quantitative", "sort": "ascending"},
    "fill": {"field": "series", "type": "nominal",
      "scale": {"domain": ["Industrielle Abwärme","E-Kessel","Grosswärmepumpen","Erneuerbare","Fossile","Kernkraft"], "range": ["#D9705F","#EBA54D","#E8C07C","#7E9D7E","#A8C4CF","#CF7F5F"]}}
   }},
  {"data": {"name": "marker"}, "mark": {"type": "rule", "strokeDash": [3, 9], "strokeWidth": 3, "color": "#000000", "strokeCap": "butt"},
   "encoding": {"x": {"field": "year", "type": "quantitative", "title": null}}},
  {"transform": [{"filter": {"field": "series", "equal": "Summe ohne Einfluss SPA"}}],
   "mark": {"type": "line", "strokeWidth": 6.5},
   "encoding": {"x": {"field": "year", "type": "quantitative", "title": null}, "y": {"field": "twh", "type": "quantitative", "title": "TWh"},
    "stroke": {"field": "series", "type": "nominal", "scale": {"domain": ["Fernwärmeverbrauch","Summe ohne Einfluss SPA"], "range": ["#777777","#000000"]}}}},
  {"transform": [{"filter": {"field": "series", "equal": "Fernwärmeverbrauch"}}],
   "mark": {"type": "line", "strokeWidth": 5.5},
   "encoding": {"x": {"field": "year", "type": "quantitative", "title": null}, "y": {"field": "twh", "type": "quantitative", "title": "TWh"},
    "stroke": {"field": "series", "type": "nominal", "scale": {"domain": ["Fernwärmeverbrauch","Summe ohne Einfluss SPA"], "range": ["#777777","#000000"]}}}}
 ]}
]},
{"spacing": 28, "hconcat": [
{"title": "SSP4-CH / SPA1", "width": 424, "height": 135, "data": {"name": "p5"},
 "layer": [
  {"transform": [{"filter": {"field": "series", "oneOf": ["Kernkraft","Fossile","Erneuerbare","Grosswärmepumpen","E-Kessel","Industrielle Abwärme"]}}, {"calculate": "indexof(['Kernkraft','Fossile','Erneuerbare','Grosswärmepumpen','E-Kessel','Industrielle Abwärme'], datum.series)", "as": "rank"}],
   "mark": {"type": "area"},
   "encoding": {
    "x": {"field": "year", "type": "quantitative", "title": null, "scale": {"domain": [2005, 2105], "nice": false, "zero": false}, "axis": {"values": [2010,2023,2030,2035,2040,2050,2060,2070,2085,2100], "format": "d"}},
    "y": {"field": "twh", "type": "quantitative", "stack": "zero", "title": "TWh", "scale": {"domain": [0, 14.5], "nice": false}, "axis": {"values": [0, 10]}},
    "order": {"field": "rank", "type": "quantitative", "sort": "ascending"},
    "fill": {"field": "series", "type": "nominal",
      "scale": {"domain": ["Industrielle Abwärme","E-Kessel","Grosswärmepumpen","Erneuerbare","Fossile","Kernkraft"], "range": ["#D9705F","#EBA54D","#E8C07C","#7E9D7E","#A8C4CF","#CF7F5F"]}}
   }},
  {"data": {"name": "marker"}, "mark": {"type": "rule", "strokeDash": [3, 9], "strokeWidth": 3, "color": "#000000", "strokeCap": "butt"},
   "encoding": {"x": {"field": "year", "type": "quantitative", "title": null}}},
  {"transform": [{"filter": {"field": "series", "equal": "Summe ohne Einfluss SPA"}}],
   "mark": {"type": "line", "strokeWidth": 6.5},
   "encoding": {"x": {"field": "year", "type": "quantitative", "title": null}, "y": {"field": "twh", "type": "quantitative", "title": "TWh"},
    "stroke": {"field": "series", "type": "nominal", "scale": {"domain": ["Fernwärmeverbrauch","Summe ohne Einfluss SPA"], "range": ["#777777","#000000"]}}}},
  {"transform": [{"filter": {"field": "series", "equal": "Fernwärmeverbrauch"}}],
   "mark": {"type": "line", "strokeWidth": 5.5},
   "encoding": {"x": {"field": "year", "type": "quantitative", "title": null}, "y": {"field": "twh", "type": "quantitative", "title": "TWh"},
    "stroke": {"field": "series", "type": "nominal", "scale": {"domain": ["Fernwärmeverbrauch","Summe ohne Einfluss SPA"], "range": ["#777777","#000000"]}}}}
 ]},
{"title": "SSP4-CH / SPA3", "width": 414, "height": 135, "data": {"name": "p6"},
 "layer": [
  {"transform": [{"filter": {"field": "series", "oneOf": ["Kernkraft","Fossile","Erneuerbare","Grosswärmepumpen","E-Kessel","Industrielle Abwärme"]}}, {"calculate": "indexof(['Kernkraft','Fossile','Erneuerbare','Grosswärmepumpen','E-Kessel','Industrielle Abwärme'], datum.series)", "as": "rank"}],
   "mark": {"type": "area"},
   "encoding": {
    "x": {"field": "year", "type": "quantitative", "title": null, "scale": {"domain": [2005, 2103], "nice": false, "zero": false}, "axis": {"values": [2010,2023,2030,2035,2040,2050,2060,2070,2085,2100], "format": "d"}},
    "y": {"field": "twh", "type": "quantitative", "stack": "zero", "title": "TWh", "scale": {"domain": [0, 14.5], "nice": false}, "axis": {"values": [0, 10]}},
    "order": {"field": "rank", "type": "quantitative", "sort": "ascending"},
    "fill": {"field": "series", "type": "nominal",
      "scale": {"domain": ["Industrielle Abwärme","E-Kessel","Grosswärmepumpen","Erneuerbare","Fossile","Kernkraft"], "range": ["#D9705F","#EBA54D","#E8C07C","#7E9D7E","#A8C4CF","#CF7F5F"]}}
   }},
  {"data": {"name": "marker"}, "mark": {"type": "rule", "strokeDash": [3, 9], "strokeWidth": 3, "color": "#000000", "strokeCap": "butt"},
   "encoding": {"x": {"field": "year", "type": "quantitative", "title": null}}},
  {"transform": [{"filter": {"field": "series", "equal": "Summe ohne Einfluss SPA"}}],
   "mark": {"type": "line", "strokeWidth": 6.5},
   "encoding": {"x": {"field": "year", "type": "quantitative", "title": null}, "y": {"field": "twh", "type": "quantitative", "title": "TWh"},
    "stroke": {"field": "series", "type": "nominal", "scale": {"domain": ["Fernwärmeverbrauch","Summe ohne Einfluss SPA"], "range": ["#777777","#000000"]}}}},
  {"transform": [{"filter": {"field": "series", "equal": "Fernwärmeverbrauch"}}],
   "mark": {"type": "line", "strokeWidth": 5.5},
   "encoding": {"x": {"field": "year", "type": "quantitative", "title": null}, "y": {"field": "twh", "type": "quantitative", "title": "TWh"},
    "stroke": {"field": "series", "type": "nominal", "scale": {"domain": ["Fernwärmeverbrauch","Summe ohne Einfluss SPA"], "range": ["#777777","#000000"]}}}}
 ]}
]},
{"hconcat": [
{"title": "SSP5-CH / SPA4", "width": 424, "height": 135, "data": {"name": "p7"},
 "layer": [
  {"transform": [{"filter": {"field": "series", "oneOf": ["Kernkraft","Fossile","Erneuerbare","Grosswärmepumpen","E-Kessel","Industrielle Abwärme"]}}, {"calculate": "indexof(['Kernkraft','Fossile','Erneuerbare','Grosswärmepumpen','E-Kessel','Industrielle Abwärme'], datum.series)", "as": "rank"}],
   "mark": {"type": "area"},
   "encoding": {
    "x": {"field": "year", "type": "quantitative", "title": null, "scale": {"domain": [2005, 2105], "nice": false, "zero": false}, "axis": {"values": [2010,2023,2030,2035,2040,2050,2060,2070,2085,2100], "format": "d"}},
    "y": {"field": "twh", "type": "quantitative", "stack": "zero", "title": "TWh", "scale": {"domain": [0, 14.5], "nice": false}, "axis": {"values": [0, 10]}},
    "order": {"field": "rank", "type": "quantitative", "sort": "ascending"},
    "fill": {"field": "series", "type": "nominal",
      "scale": {"domain": ["Industrielle Abwärme","E-Kessel","Grosswärmepumpen","Erneuerbare","Fossile","Kernkraft"], "range": ["#D9705F","#EBA54D","#E8C07C","#7E9D7E","#A8C4CF","#CF7F5F"]}}
   }},
  {"data": {"name": "marker"}, "mark": {"type": "rule", "strokeDash": [3, 9], "strokeWidth": 3, "color": "#000000", "strokeCap": "butt"},
   "encoding": {"x": {"field": "year", "type": "quantitative", "title": null}}},
  {"transform": [{"filter": {"field": "series", "equal": "Summe ohne Einfluss SPA"}}],
   "mark": {"type": "line", "strokeWidth": 6.5},
   "encoding": {"x": {"field": "year", "type": "quantitative", "title": null}, "y": {"field": "twh", "type": "quantitative", "title": "TWh"},
    "stroke": {"field": "series", "type": "nominal", "scale": {"domain": ["Fernwärmeverbrauch","Summe ohne Einfluss SPA"], "range": ["#777777","#000000"]}}}},
  {"transform": [{"filter": {"field": "series", "equal": "Fernwärmeverbrauch"}}],
   "mark": {"type": "line", "strokeWidth": 5.5},
   "encoding": {"x": {"field": "year", "type": "quantitative", "title": null}, "y": {"field": "twh", "type": "quantitative", "title": "TWh"},
    "stroke": {"field": "series", "type": "nominal", "scale": {"domain": ["Fernwärmeverbrauch","Summe ohne Einfluss SPA"], "range": ["#777777","#000000"]}}}}
 ]}
]}
]
}
